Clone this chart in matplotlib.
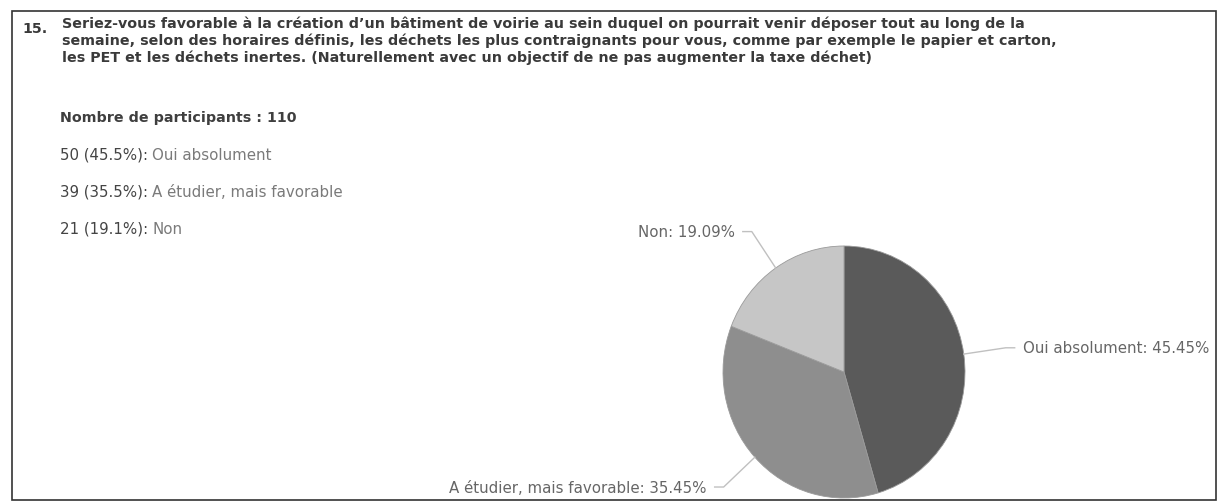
import numpy as np
import matplotlib
matplotlib.use("Agg")
import matplotlib.pyplot as plt
from matplotlib.lines import Line2D
from matplotlib.patches import Rectangle

# ---- data ----
question_number = "15."
question_lines = [
    "Seriez-vous favorable à la création d\u2019un bâtiment de voirie au sein duquel on pourrait venir déposer tout au long de la",
    "semaine, selon des horaires définis, les déchets les plus contraignants pour vous, comme par exemple le papier et carton,",
    "les PET et les déchets inertes. (Naturellement avec un objectif de ne pas augmenter la taxe déchet)",
]
participants = 110
categories = ["Oui absolument", "A étudier, mais favorable", "Non"]
counts = [50, 39, 21]
summary_pcts = ["45.5%", "35.5%", "19.1%"]
label_pcts = ["45.45%", "35.45%", "19.09%"]
colors = ["#5a5a5a", "#8e8e8e", "#c6c6c6"]

W, H = 1220, 502
fig = plt.figure(figsize=(W / 100, H / 100), dpi=100)
fig.patch.set_facecolor("white")

def fx(x):
    return x / W

def fy(y):
    return 1 - y / H

FONT = "DejaVu Sans"

# border box
fig.add_artist(Rectangle((fx(12), fy(501)), fx(1216) - fx(12), fy(12) - fy(501),
                         transform=fig.transFigure, fill=False, edgecolor="#333333", lw=1.2))

# question
fig.text(fx(22), fy(33), question_number, fontsize=10.3, color="#3a3a3a", family=FONT,
         fontweight="bold", va="baseline", ha="left")
for i, line in enumerate(question_lines):
    fig.text(fx(62), fy(28 + 17 * i), line, fontsize=10.3, color="#3a3a3a", family=FONT,
             fontweight="bold", va="baseline", ha="left")

fig.text(fx(60), fy(122), f"Nombre de participants : {participants}", fontsize=10.3,
         color="#3f3f3f", family=FONT, fontweight="bold", va="baseline", ha="left")
for i, (cat, c, p) in enumerate(zip(categories, counts, summary_pcts)):
    y = 160 + 37 * i
    fig.text(fx(60), fy(y), f"{c} ({p}):", fontsize=10.8, color="#444444", family=FONT,
             va="baseline", ha="left")
    fig.text(fx(152), fy(y), cat, fontsize=10.8, color="#7a7a7a",
             family=FONT, va="baseline", ha="left")

# pie
ax = fig.add_axes([fx(723), fy(499), (965 - 723) / W, (499 - 247) / H])
wedges, _ = ax.pie(counts, colors=colors, startangle=90, counterclock=False,
                   radius=1.0, wedgeprops=dict(linewidth=0.6, edgecolor="#9a9a9a"))
ax.set_aspect("auto")
ax.set_xlim(-1, 1)
ax.set_ylim(-1, 1)
ax.axis("off")

fig.canvas.draw()
to_disp = ax.transData
for w, cat, lp in zip(wedges, categories, label_pcts):
    mid = np.deg2rad((w.theta1 + w.theta2) / 2)
    p0 = to_disp.transform((np.cos(mid), np.sin(mid)))
    p1 = to_disp.transform((1.35 * np.cos(mid), 1.35 * np.sin(mid)))
    side = 1 if np.cos(mid) >= 0 else -1
    p2 = (p1[0] + side * 9, p1[1])
    xs = [p0[0], p1[0], p2[0]]
    ys = [p0[1], p1[1], p2[1]]
    fig.add_artist(Line2D([x / W for x in xs], [y / H for y in ys],
                          transform=fig.transFigure, color="#c0c0c0", lw=1.0))
    fig.text((p2[0] + side * 8) / W, p2[1] / H, f"{cat}: {lp}", fontsize=10.8,
             color="#666666", family=FONT, va="center",
             ha="left" if side > 0 else "right")

fig.savefig("out.png", dpi=100, facecolor="white")
